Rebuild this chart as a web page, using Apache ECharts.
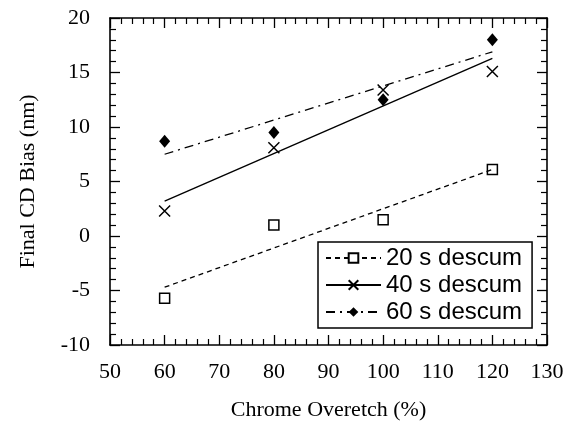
<!DOCTYPE html>
<html lang="en">
<head>
    <meta charset="UTF-8">
    <title>CD bias vs chrome overetch</title>
    <script src="https://cdn.jsdelivr.net/npm/echarts@6/dist/echarts.min.js"></script>
    <style>
        body { margin: 0; background: #fff; }
        #main { width: 573px; height: 431px; }
    </style>
</head>
<body>
<div id="main"></div>

<script type="text/javascript">
    // overetch values (%)
    var overetch = [60, 80, 100, 120];
    // measured CD bias (nm) for each descum time
    var bias20 = [-5.7, 1.0, 1.5, 6.1];
    var bias40 = [2.3, 8.1, 13.4, 15.1];
    var bias60 = [8.7, 9.5, 12.5, 18.0];
    // fitted lines, read at both ends (60 and 120)
    var fitX = [60, 120];
    var fit20 = [-4.7, 6.1];
    var fit40 = [3.2, 16.3];
    var fit60 = [7.5, 16.9];
    var names = ['20 s descum', '40 s descum', '60 s descum'];

    var serif = '"Liberation Serif", "Times New Roman", serif';
    var sans = '"Liberation Sans", Arial, sans-serif';

    function pairs(xs, ys) {
        var out = [];
        for (var i = 0; i < xs.length; i++) out.push([xs[i], ys[i]]);
        return out;
    }

    var crossPath = 'path://M0,0L10,10M10,0L0,10';

    function axisX(pos, showLabel) {
        return {
            type: 'value', position: pos, min: 50, max: 130, interval: 10,
            axisLine: { onZero: false, lineStyle: { color: '#000', width: 1.6 } },
            axisTick: { inside: true, length: 10, lineStyle: { color: '#000', width: 1.3 } },
            minorTick: { show: true, splitNumber: 5, length: 6, lineStyle: { color: '#000', width: 1.2 } },
            axisLabel: { show: showLabel, color: '#000', fontFamily: serif, fontSize: 22, margin: 16 },
            splitLine: { show: false },
            name: showLabel ? 'Chrome Overetch (%)' : '',
            nameLocation: 'middle', nameGap: 54,
            nameTextStyle: { color: '#000', fontFamily: serif, fontSize: 22 }
        };
    }
    function axisY(pos, showLabel) {
        return {
            type: 'value', position: pos, min: -10, max: 20, interval: 5,
            axisLine: { onZero: false, lineStyle: { color: '#000', width: 1.6 } },
            axisTick: { inside: true, length: 10, lineStyle: { color: '#000', width: 1.3 } },
            minorTick: { show: true, splitNumber: 5, length: 6, lineStyle: { color: '#000', width: 1.2 } },
            axisLabel: { show: showLabel, color: '#000', fontFamily: serif, fontSize: 22, margin: 20 },
            splitLine: { show: false },
            name: showLabel ? 'Final CD Bias (nm)' : '',
            nameLocation: 'middle', nameGap: 71,
            nameTextStyle: { color: '#000', fontFamily: serif, fontSize: 22 }
        };
    }

    var myChart = echarts.init(document.getElementById('main'));

    var option = {
        animation: false,
        backgroundColor: '#fff',
        grid: { left: 110, right: 26, top: 18, bottom: 86 },
        xAxis: [axisX('bottom', true), axisX('top', false)],
        yAxis: [axisY('left', true), axisY('right', false)],
        legend: {
            data: names,
            orient: 'vertical',
            left: 318, top: 242,
            padding: [4, 10, 4, 7],
            itemGap: 3,
            itemWidth: 55, itemHeight: 12,
            backgroundColor: '#fff',
            borderColor: '#000', borderWidth: 1.5, borderRadius: 0,
            textStyle: { color: '#000', fontFamily: sans, fontSize: 24 }
        },
        series: [
            {
                name: names[0], type: 'line', data: pairs(fitX, fit20),
                showSymbol: false, symbol: 'rect', symbolSize: 10,
                itemStyle: { color: '#fff', borderColor: '#000', borderWidth: 1.5 },
                lineStyle: { color: '#000', width: 1.3, type: [5, 4] }
            },
            {
                name: names[1], type: 'line', data: pairs(fitX, fit40),
                showSymbol: false, symbol: crossPath, symbolSize: 11,
                itemStyle: { color: '#000', borderColor: '#000', borderWidth: 1.5 },
                lineStyle: { color: '#000', width: 1.4, type: 'solid' }
            },
            {
                name: names[2], type: 'line', data: pairs(fitX, fit60),
                showSymbol: false, symbol: 'diamond', symbolSize: [11, 13],
                itemStyle: { color: '#000', borderColor: '#000' },
                lineStyle: { color: '#000', width: 1.3, type: [9, 5, 2, 5] }
            },
            {
                name: 'pts20', type: 'scatter', data: pairs(overetch, bias20),
                symbol: 'rect', symbolSize: 10,
                itemStyle: { color: '#fff', borderColor: '#000', borderWidth: 1.5, opacity: 1 }
            },
            {
                name: 'pts40', type: 'scatter', data: pairs(overetch, bias40),
                symbol: crossPath, symbolSize: 11,
                itemStyle: { color: '#000', borderColor: '#000', borderWidth: 1.5, opacity: 1 }
            },
            {
                name: 'pts60', type: 'scatter', data: pairs(overetch, bias60),
                symbol: 'diamond', symbolSize: [11, 13],
                itemStyle: { color: '#000', opacity: 1 }
            }
        ]
    };

    myChart.setOption(option);
</script>
</body>
</html>
